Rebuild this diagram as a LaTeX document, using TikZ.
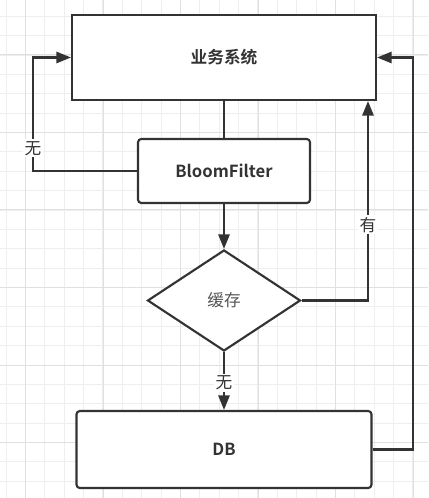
\documentclass[tikz,border=0pt]{standalone}
\usepackage{fontspec}
\setmainfont{Noto Sans CJK SC}[BoldFont={Noto Sans CJK SC Bold}]
\usetikzlibrary{shapes.geometric,arrows.meta}
\definecolor{linegray}{HTML}{333333}
\definecolor{textgray}{HTML}{333333}
\definecolor{softgray}{HTML}{555555}
\definecolor{gridminor}{HTML}{EEEEEE}
\definecolor{gridmajor}{HTML}{E0E0E0}

\begin{document}
\begin{tikzpicture}[x=0.75pt, y=-0.75pt,
    box/.style={rectangle, draw=linegray, line width=1.6pt, fill=white, inner sep=0pt,
        text=textgray, font=\bfseries\fontsize{12.5}{15}\selectfont},
    rbox/.style={box, rounded corners=2.5pt},
    decision/.style={diamond, draw=linegray, line width=1.6pt, fill=white, inner sep=0pt,
        text=softgray, font=\fontsize{12.5}{15}\selectfont},
    link/.style={draw=linegray, line width=1.6pt},
    arr/.style={link, -{Triangle[length=11pt, width=8.5pt]}},
    lbl/.style={fill=white, inner sep=1.5pt, text=textgray, font=\fontsize{12.5}{15}\selectfont}]
        \useasboundingbox (0,0) rectangle (428,498);
        \fill[white] (0,0) rectangle (428,498);

        % 背景网格
        \foreach \i in {0,...,22}
            \draw[gridminor, line width=0.75pt] ({6.1+19.375*\i},0) -- ({6.1+19.375*\i},498);
        \foreach \i in {0,...,26}
            \draw[gridminor, line width=0.75pt] (0,{-3.1+19.375*\i}) -- (428,{-3.1+19.375*\i});
        \foreach \i in {0,...,5}
            \draw[gridmajor, line width=0.75pt] ({25.5+77.5*\i},0) -- ({25.5+77.5*\i},498);
        \foreach \i in {0,...,6}
            \draw[gridmajor, line width=0.75pt] (0,{-22.5+77.5*\i}) -- (428,{-22.5+77.5*\i});

        % 流程节点
        \node[box, minimum width=228pt, minimum height=63.75pt] (sys) at (224,57.5) {业务系统};
        \node[rbox, minimum width=129pt, minimum height=48pt] (bf) at (224,171) {BloomFilter};
        \node[decision, minimum width=114.75pt, minimum height=75.75pt] (cache) at (224,300.5) {缓存};
        \node[rbox, minimum width=221.25pt, minimum height=57.75pt] (db) at (224,449.5) {DB};

        % 回路拐点
        \coordinate (nL) at (33,0);
        \coordinate (nR) at (368,0);
        \coordinate (nF) at (413,0);

        % 连线
        \draw[link] (sys) -- (bf);
        \draw[arr] (bf.west) -- (bf.west -| nL) -- node[lbl, pos=0.2] {无} (sys.west -| nL) -- (sys.west);
        \draw[arr] (bf) -- (cache);
        \draw[arr] (cache.east) -- (cache.east -| nR) -- node[lbl, pos=0.38] {有} (sys.south -| nR);
        \draw[arr] (cache) -- node[lbl, pos=0.53] {无} (db);
        \draw[arr] (db.east) -- (db.east -| nF) -- (sys.east -| nF) -- (sys.east);
\end{tikzpicture}
\end{document}
